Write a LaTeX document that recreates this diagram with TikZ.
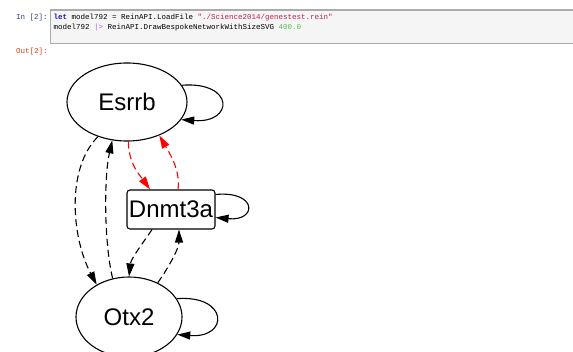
\documentclass[tikz,border=0pt]{standalone}
\usepackage{fontspec}
\setmainfont{Liberation Sans}
\newfontfamily\codefont{Liberation Mono}
\usetikzlibrary{arrows.meta,shapes.geometric}
\definecolor{cellborder}{HTML}{ABABAB}
\definecolor{cellfill}{HTML}{F5F5F5}
\definecolor{inprompt}{HTML}{303F9F}
\definecolor{outprompt}{HTML}{D84315}
\definecolor{kwcol}{HTML}{1A1AA6}
\definecolor{strcol}{HTML}{BA2151}
\definecolor{opcol}{HTML}{AA55FF}
\definecolor{numcol}{HTML}{55BB55}
\begin{document}
\begin{tikzpicture}[x=1pt,y=1pt,
  code/.style={font=\codefont\fontsize{7.5}{9}\selectfont, inner sep=0pt, anchor=base west},
  gnode/.style={draw, line width=1.1pt, font=\fontsize{24}{28}\selectfont, inner sep=0pt},
  edge/.style={line width=1.1pt, dash pattern=on 7pt off 4pt, -{Triangle[length=13pt,width=8pt]}},
  loopedge/.style={line width=1.1pt, -{Triangle[length=13pt,width=8pt]}},
]
\clip (0,0) rectangle (573,-352);
\fill[white] (0,0) rectangle (573,-352);

% notebook input cell
\draw[cellborder, fill=cellfill, line width=1.4pt] (50.5,-10) rectangle (580,-43.5);
\node[code, text=inprompt] (inlabel) at (16,-20) {In [2]:};
\node[code, text=outprompt] (outlabel) at (16,-54) {Out[2]:};
\node[code] (line1) at (53.5,-20)
  {\textcolor{kwcol}{\textbf{let}} model792 = ReinAPI.LoadFile \textcolor{strcol}{"./Science2014/genestest.rein"}};
\node[code] (line2) at (53.5,-29.5)
  {model792 \textcolor{opcol}{|>} ReinAPI.DrawBespokeNetworkWithSizeSVG \textcolor{numcol}{400.0}};

% gene network
\node[gnode, ellipse, minimum width=120pt, minimum height=78pt] (esrrb) at (127,-102) {Esrrb};
\node[gnode, rectangle, rounded corners=3pt, minimum width=88pt, minimum height=39pt] (dnmt) at (171,-209.5) {Dnmt3a};
\node[gnode, ellipse, minimum width=106pt, minimum height=80pt] (otx) at (129,-317) {Otx2};

% red interactions between Esrrb and Dnmt3a
\draw[edge, red] (esrrb.272) .. controls +(0,-22) and +(-10,14) .. ([xshift=-21pt]dnmt.north);
\draw[edge, red] ([xshift=7pt]dnmt.north) .. controls +(3,20) and +(8,-14) .. (esrrb.314);

% black dashed interactions
\draw[edge] (esrrb.230) .. controls +(-32,-32) and +(-25,47) .. (otx.135);
\draw[edge] (otx.113) .. controls +(-9,38) and +(-8,-35) .. (esrrb.249);
\draw[edge] ([xshift=-19pt]dnmt.south) .. controls +(-8,-12) and +(2,18) .. (otx.90);
\draw[edge] (otx.50) .. controls +(10,14) and +(0,-19) .. ([xshift=8pt]dnmt.south);

% self loops
\draw[loopedge] (esrrb.17) .. controls +(53,4) and +(53,-4) .. (esrrb.-18);
\draw[loopedge] ([yshift=15pt]dnmt.east) .. controls +(42,4) and +(42,-4) .. ([yshift=-8pt]dnmt.east);
\draw[loopedge] (otx.21) .. controls +(52,4) and +(52,-4) .. (otx.-20);
\end{tikzpicture}
\end{document}
